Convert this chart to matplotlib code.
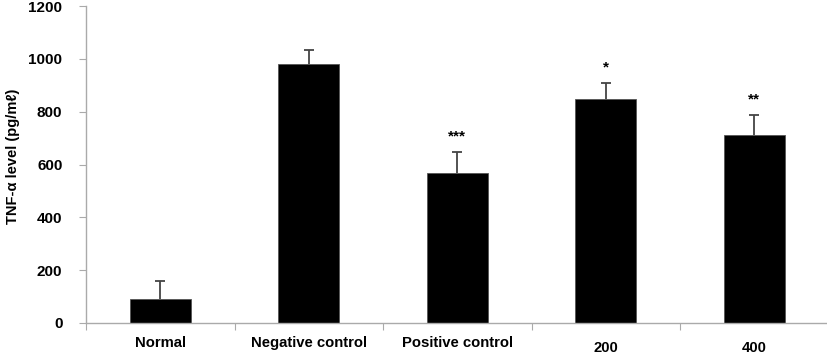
import matplotlib
matplotlib.use("Agg")
import matplotlib.pyplot as plt
import matplotlib.transforms as mtransforms
import numpy as np

categories = ["Normal", "Negative control", "Positive control", "200", "400"]
values = [90, 980, 568, 848, 710]
errors = [68, 55, 78, 60, 78]
stars = ["", "", "***", "*", "**"]
yticks = [0, 200, 400, 600, 800, 1000, 1200]

plt.rcParams['font.family'] = ['Liberation Sans', 'DejaVu Sans']
plt.rcParams['font.weight'] = 'bold'

fig = plt.figure(figsize=(8.27, 3.54), dpi=100)
ax = fig.add_axes([86/827, 1 - 323/354, 742.5/827, 317/354])

x = np.arange(len(categories))
ax.bar(x, values, width=0.41, color='black', edgecolor='#555555', linewidth=0.6, zorder=2)
eb = ax.errorbar(x, values, yerr=[np.zeros(len(errors)), errors], fmt='none',
                 ecolor='#444444', elinewidth=1.3, capsize=3.5, capthick=1.3, zorder=3)
eb[1][0].set_visible(False)
for xi, v, e, s in zip(x, values, errors, stars):
    if s:
        ax.text(xi, v + e + 60, s, ha='center', va='center', fontsize=11,
                fontweight='bold', color='black')

ax.set_xlim(-0.5, 4.5)
ax.set_ylim(0, 1200)
ax.set_yticks(yticks)
ax.set_yticklabels([str(t) for t in yticks], fontsize=11, fontweight='bold')
ax.set_xticks(np.arange(len(categories) + 1) - 0.5)
ax.set_xticklabels([])
trans = mtransforms.blended_transform_factory(ax.transData, ax.transAxes)
for xi, c in zip(x, categories):
    dy = -25 if c.isdigit() else -20
    ax.annotate(c, xy=(xi, 0), xycoords=trans, xytext=(0, dy), textcoords='offset pixels',
                ha='center', va='center', fontsize=10.7, fontweight='bold')
ax.tick_params(axis='x', which='major', length=5, color='#aaaaaa', direction='out')
ax.tick_params(axis='y', length=5, color='#aaaaaa', direction='out', pad=12)

for side in ['top', 'right']:
    ax.spines[side].set_visible(False)
for side in ['left', 'bottom']:
    ax.spines[side].set_color('#aaaaaa')
    ax.spines[side].set_linewidth(1.0)

fig.text(13/827, 1 - 156/354, "TNF-α level (pg/mℓ)", rotation=90, ha='center', va='center',
         fontsize=10.5, fontweight='bold')

fig.savefig("out.png", dpi=100)
